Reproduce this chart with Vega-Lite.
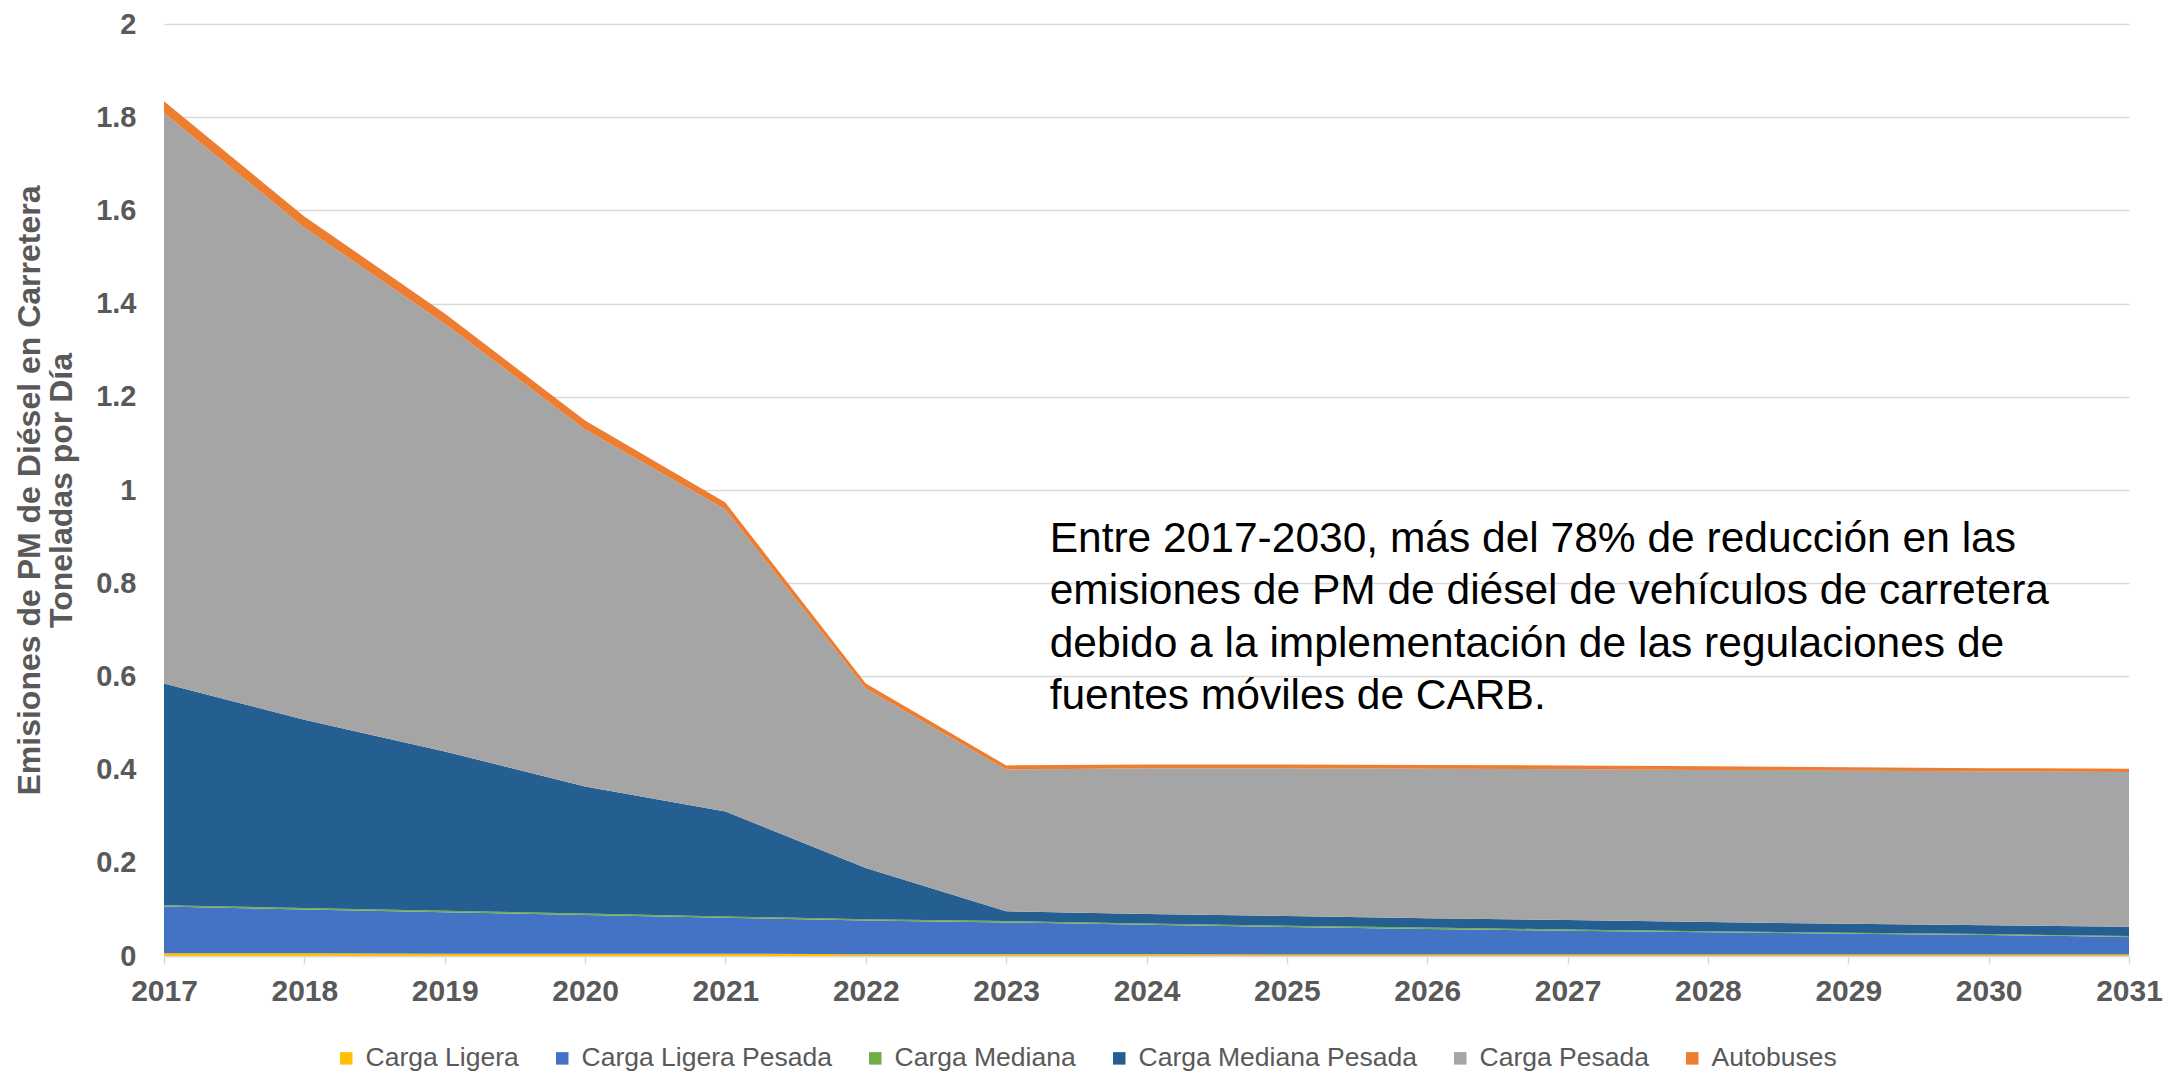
{
  "$schema": "https://vega.github.io/schema/vega-lite/v6.json",
  "width": 1965,
  "height": 932,
  "autosize": {"type": "none"},
  "padding": {"left": 164, "top": 24, "right": 53, "bottom": 119},
  "background": "white",
  "config": {"view": {"stroke": null}, "font": "Liberation Sans"},
  "layer": [
    {
      "data": {
        "values": [
          {"year": 2017, "s": "Carga Ligera", "o": 1, "v": 0.006},
          {"year": 2018, "s": "Carga Ligera", "o": 1, "v": 0.006},
          {"year": 2019, "s": "Carga Ligera", "o": 1, "v": 0.005},
          {"year": 2020, "s": "Carga Ligera", "o": 1, "v": 0.005},
          {"year": 2021, "s": "Carga Ligera", "o": 1, "v": 0.005},
          {"year": 2022, "s": "Carga Ligera", "o": 1, "v": 0.004},
          {"year": 2023, "s": "Carga Ligera", "o": 1, "v": 0.004},
          {"year": 2024, "s": "Carga Ligera", "o": 1, "v": 0.004},
          {"year": 2025, "s": "Carga Ligera", "o": 1, "v": 0.003},
          {"year": 2026, "s": "Carga Ligera", "o": 1, "v": 0.003},
          {"year": 2027, "s": "Carga Ligera", "o": 1, "v": 0.003},
          {"year": 2028, "s": "Carga Ligera", "o": 1, "v": 0.003},
          {"year": 2029, "s": "Carga Ligera", "o": 1, "v": 0.003},
          {"year": 2030, "s": "Carga Ligera", "o": 1, "v": 0.003},
          {"year": 2031, "s": "Carga Ligera", "o": 1, "v": 0.003},
          {"year": 2017, "s": "Carga Ligera Pesada", "o": 2, "v": 0.100},
          {"year": 2018, "s": "Carga Ligera Pesada", "o": 2, "v": 0.094},
          {"year": 2019, "s": "Carga Ligera Pesada", "o": 2, "v": 0.089},
          {"year": 2020, "s": "Carga Ligera Pesada", "o": 2, "v": 0.083},
          {"year": 2021, "s": "Carga Ligera Pesada", "o": 2, "v": 0.077},
          {"year": 2022, "s": "Carga Ligera Pesada", "o": 2, "v": 0.072},
          {"year": 2023, "s": "Carga Ligera Pesada", "o": 2, "v": 0.068},
          {"year": 2024, "s": "Carga Ligera Pesada", "o": 2, "v": 0.063},
          {"year": 2025, "s": "Carga Ligera Pesada", "o": 2, "v": 0.059},
          {"year": 2026, "s": "Carga Ligera Pesada", "o": 2, "v": 0.055},
          {"year": 2027, "s": "Carga Ligera Pesada", "o": 2, "v": 0.051},
          {"year": 2028, "s": "Carga Ligera Pesada", "o": 2, "v": 0.048},
          {"year": 2029, "s": "Carga Ligera Pesada", "o": 2, "v": 0.045},
          {"year": 2030, "s": "Carga Ligera Pesada", "o": 2, "v": 0.042},
          {"year": 2031, "s": "Carga Ligera Pesada", "o": 2, "v": 0.038},
          {"year": 2017, "s": "Carga Mediana", "o": 3, "v": 0.003},
          {"year": 2018, "s": "Carga Mediana", "o": 3, "v": 0.003},
          {"year": 2019, "s": "Carga Mediana", "o": 3, "v": 0.003},
          {"year": 2020, "s": "Carga Mediana", "o": 3, "v": 0.003},
          {"year": 2021, "s": "Carga Mediana", "o": 3, "v": 0.003},
          {"year": 2022, "s": "Carga Mediana", "o": 3, "v": 0.003},
          {"year": 2023, "s": "Carga Mediana", "o": 3, "v": 0.003},
          {"year": 2024, "s": "Carga Mediana", "o": 3, "v": 0.003},
          {"year": 2025, "s": "Carga Mediana", "o": 3, "v": 0.003},
          {"year": 2026, "s": "Carga Mediana", "o": 3, "v": 0.003},
          {"year": 2027, "s": "Carga Mediana", "o": 3, "v": 0.003},
          {"year": 2028, "s": "Carga Mediana", "o": 3, "v": 0.002},
          {"year": 2029, "s": "Carga Mediana", "o": 3, "v": 0.002},
          {"year": 2030, "s": "Carga Mediana", "o": 3, "v": 0.002},
          {"year": 2031, "s": "Carga Mediana", "o": 3, "v": 0.002},
          {"year": 2017, "s": "Carga Mediana Pesada", "o": 4, "v": 0.476},
          {"year": 2018, "s": "Carga Mediana Pesada", "o": 4, "v": 0.404},
          {"year": 2019, "s": "Carga Mediana Pesada", "o": 4, "v": 0.342},
          {"year": 2020, "s": "Carga Mediana Pesada", "o": 4, "v": 0.273},
          {"year": 2021, "s": "Carga Mediana Pesada", "o": 4, "v": 0.225},
          {"year": 2022, "s": "Carga Mediana Pesada", "o": 4, "v": 0.110},
          {"year": 2023, "s": "Carga Mediana Pesada", "o": 4, "v": 0.021},
          {"year": 2024, "s": "Carga Mediana Pesada", "o": 4, "v": 0.020},
          {"year": 2025, "s": "Carga Mediana Pesada", "o": 4, "v": 0.021},
          {"year": 2026, "s": "Carga Mediana Pesada", "o": 4, "v": 0.020},
          {"year": 2027, "s": "Carga Mediana Pesada", "o": 4, "v": 0.020},
          {"year": 2028, "s": "Carga Mediana Pesada", "o": 4, "v": 0.020},
          {"year": 2029, "s": "Carga Mediana Pesada", "o": 4, "v": 0.019},
          {"year": 2030, "s": "Carga Mediana Pesada", "o": 4, "v": 0.019},
          {"year": 2031, "s": "Carga Mediana Pesada", "o": 4, "v": 0.020},
          {"year": 2017, "s": "Carga Pesada", "o": 5, "v": 1.224},
          {"year": 2018, "s": "Carga Pesada", "o": 5, "v": 1.056},
          {"year": 2019, "s": "Carga Pesada", "o": 5, "v": 0.918},
          {"year": 2020, "s": "Carga Pesada", "o": 5, "v": 0.766},
          {"year": 2021, "s": "Carga Pesada", "o": 5, "v": 0.648},
          {"year": 2022, "s": "Carga Pesada", "o": 5, "v": 0.385},
          {"year": 2023, "s": "Carga Pesada", "o": 5, "v": 0.304},
          {"year": 2024, "s": "Carga Pesada", "o": 5, "v": 0.313},
          {"year": 2025, "s": "Carga Pesada", "o": 5, "v": 0.317},
          {"year": 2026, "s": "Carga Pesada", "o": 5, "v": 0.321},
          {"year": 2027, "s": "Carga Pesada", "o": 5, "v": 0.324},
          {"year": 2028, "s": "Carga Pesada", "o": 5, "v": 0.326},
          {"year": 2029, "s": "Carga Pesada", "o": 5, "v": 0.329},
          {"year": 2030, "s": "Carga Pesada", "o": 5, "v": 0.330},
          {"year": 2031, "s": "Carga Pesada", "o": 5, "v": 0.332},
          {"year": 2017, "s": "Autobuses", "o": 6, "v": 0.025},
          {"year": 2018, "s": "Autobuses", "o": 6, "v": 0.024},
          {"year": 2019, "s": "Autobuses", "o": 6, "v": 0.022},
          {"year": 2020, "s": "Autobuses", "o": 6, "v": 0.019},
          {"year": 2021, "s": "Autobuses", "o": 6, "v": 0.015},
          {"year": 2022, "s": "Autobuses", "o": 6, "v": 0.011},
          {"year": 2023, "s": "Autobuses", "o": 6, "v": 0.009},
          {"year": 2024, "s": "Autobuses", "o": 6, "v": 0.008},
          {"year": 2025, "s": "Autobuses", "o": 6, "v": 0.008},
          {"year": 2026, "s": "Autobuses", "o": 6, "v": 0.008},
          {"year": 2027, "s": "Autobuses", "o": 6, "v": 0.008},
          {"year": 2028, "s": "Autobuses", "o": 6, "v": 0.008},
          {"year": 2029, "s": "Autobuses", "o": 6, "v": 0.007},
          {"year": 2030, "s": "Autobuses", "o": 6, "v": 0.007},
          {"year": 2031, "s": "Autobuses", "o": 6, "v": 0.007}
        ]
      },
      "mark": {"type": "area", "interpolate": "linear"},
      "encoding": {
        "x": {
          "field": "year",
          "type": "quantitative",
          "scale": {"domain": [2017, 2031], "nice": false, "zero": false},
          "axis": {
            "title": null,
            "values": [2017, 2018, 2019, 2020, 2021, 2022, 2023, 2024, 2025, 2026, 2027, 2028, 2029, 2030, 2031],
            "format": "d",
            "grid": false,
            "domainColor": "#D9D9D9",
            "domainWidth": 1.5,
            "tickColor": "#D9D9D9",
            "tickWidth": 1.5,
            "tickSize": 8,
            "labelFont": "Liberation Sans",
            "labelFontSize": 30,
            "labelFontWeight": "bold",
            "labelColor": "#595959",
            "labelPadding": 12,
            "labelFlush": false,
            "labelOverlap": false
          }
        },
        "y": {
          "field": "v",
          "type": "quantitative",
          "stack": "zero",
          "scale": {"domain": [0, 2], "nice": false},
          "axis": {
            "values": [0, 0.2, 0.4, 0.6, 0.8, 1, 1.2, 1.4, 1.6, 1.8, 2],
            "format": "~g",
            "domain": false,
            "ticks": false,
            "grid": true,
            "gridColor": "#D9D9D9",
            "gridWidth": 1.5,
            "labelFont": "Liberation Sans",
            "labelFontSize": 29,
            "labelFontWeight": "bold",
            "labelColor": "#595959",
            "labelPadding": 28,
            "title": ["Emisiones de PM de Diésel en Carretera", "Toneladas por Día"],
            "titleFont": "Liberation Sans",
            "titleFontSize": 32,
            "titleFontWeight": "bold",
            "titleColor": "#595959",
            "titleLineHeight": 32,
            "titlePadding": 17
          }
        },
        "color": {
          "field": "s",
          "type": "nominal",
          "scale": {
            "domain": ["Carga Ligera", "Carga Ligera Pesada", "Carga Mediana", "Carga Mediana Pesada", "Carga Pesada", "Autobuses"],
            "range": ["#FFC000", "#4472C4", "#70AD47", "#255E91", "#A5A5A5", "#ED7D31"]
          },
          "legend": {
            "title": null,
            "orient": "none",
            "direction": "horizontal",
            "legendX": 169,
            "legendY": 1021,
            "padding": 0,
            "symbolType": "square",
            "symbolSize": 156,
            "symbolStrokeWidth": 0,
            "symbolOpacity": 1,
            "labelFont": "Liberation Sans",
            "labelFontSize": 26.5,
            "labelColor": "#595959",
            "labelOffset": 6,
            "columnPadding": 30,
            "labelLimit": 400,
            "encode": {
              "symbols": {
                "update": {
                  "fill": {"signal": "datum.label === 'Carga Ligera Pesada' ? '#5B9BD5' : datum.label === 'Carga Mediana Pesada' ? '#264478' : datum.label === 'Carga Ligera' ? '#FFC000' : datum.label === 'Carga Mediana' ? '#70AD47' : datum.label === 'Carga Pesada' ? '#A5A5A5' : '#ED7D31'"}
                }
              }
            }
          }
        },
        "order": {"field": "o", "type": "quantitative"}
      }
    },
    {
      "data": {"values": [{}]},
      "mark": {
        "type": "text",
        "align": "left",
        "baseline": "alphabetic",
        "font": "Liberation Sans",
        "fontSize": 42.5,
        "lineHeight": 52.5,
        "color": "#000000"
      },
      "encoding": {
        "x": {"datum": 2023.31},
        "y": {"datum": 0.867},
        "text": {"value": ["Entre 2017-2030, más del 78% de reducción en las", "emisiones de PM de diésel de vehículos de carretera", "debido a la implementación de las regulaciones de", "fuentes móviles de CARB."]}
      }
    }
  ]
}
